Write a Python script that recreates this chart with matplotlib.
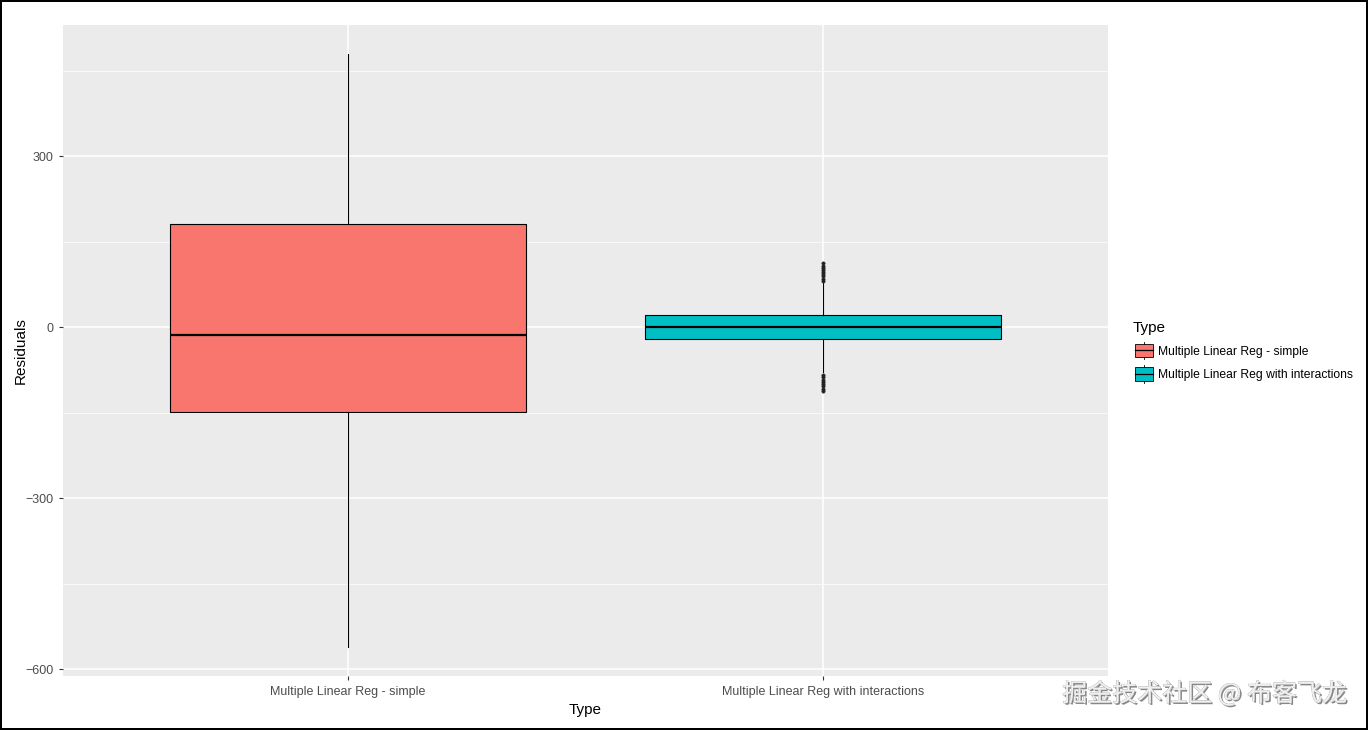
import numpy as np
import matplotlib.pyplot as plt
import matplotlib.patheffects as pe
from matplotlib.legend_handler import HandlerBase
from matplotlib.patches import Rectangle
from matplotlib.lines import Line2D

plt.rcParams["font.family"] = ["Liberation Sans", "DejaVu Sans"]

# box statistics
types = ["Multiple Linear Reg - simple", "Multiple Linear Reg with interactions"]
colors = ["#F8766D", "#00BFC4"]
whislo = [-561, -79]
q1 = [-149, -21]
med = [-14, 0]
q3 = [181, 21]
whishi = [479, 77]
fliers = [
    [],
    [81, 85, 89, 93, 96, 100, 104, 108, 112,
     -84, -88, -92, -96, -100, -104, -108, -112],
]
major_ticks = [-600, -300, 0, 300]
minor_ticks = [-450, -150, 150, 450]

stats = []
for i in range(len(types)):
    stats.append(dict(whislo=whislo[i], q1=q1[i], med=med[i], q3=q3[i],
                      whishi=whishi[i], fliers=fliers[i], label=types[i]))

fig = plt.figure(figsize=(13.68, 7.3), dpi=100, edgecolor="black", linewidth=1.5)
ax = fig.add_axes([63 / 1368, 54 / 730, 1045 / 1368, 651 / 730])
ax.set_facecolor("#EBEBEB")

bp = ax.bxp(stats, positions=[1, 2], widths=0.75, patch_artist=True, showcaps=False,
            boxprops=dict(linewidth=0.8, edgecolor="black"),
            medianprops=dict(color="black", linewidth=1.6),
            whiskerprops=dict(color="black", linewidth=0.8),
            flierprops=dict(marker="o", markersize=2.4, markerfacecolor="#222222",
                            markeredgecolor="#222222", markeredgewidth=0.4,
                            linestyle="none"),
            zorder=3)
for box, c in zip(bp["boxes"], colors):
    box.set_facecolor(c)

ax.set_xlim(0.4, 2.6)
ax.set_ylim(-612, 530)
ax.set_yticks(major_ticks)
ax.set_yticks(minor_ticks, minor=True)
ax.set_xticks([1, 2])
ax.set_xticklabels(types)
ax.grid(which="major", color="white", linewidth=1.1, zorder=0)
ax.grid(which="minor", axis="y", color="white", linewidth=0.5, zorder=0)
ax.set_axisbelow(True)
for s in ax.spines.values():
    s.set_visible(False)
ax.tick_params(which="major", length=3, width=0.8, color="#333333",
               labelcolor="#4D4D4D", labelsize=9, pad=4)
ax.tick_params(which="minor", length=0)
ax.set_xlabel("Type", fontsize=11, labelpad=4)
ax.set_ylabel("Residuals", fontsize=11)
ax.yaxis.set_label_coords(-35 / 1045, 0.5)


class BoxKey(HandlerBase):
    # ggplot-style boxplot key: box, median line and whisker stubs
    def create_artists(self, legend, orig_handle, xdescent, ydescent,
                       width, height, fontsize, trans):
        c = orig_handle.get_facecolor()
        x0 = -xdescent + 1.5
        yc = 0.36 * fontsize
        half = 6.2
        bh = 4.8
        r = Rectangle((x0, yc - bh), width, 2 * bh,
                      facecolor=c, edgecolor="black", linewidth=0.6, transform=trans)
        m = Line2D([x0, x0 + width], [yc, yc], color="black",
                   linewidth=0.9, transform=trans)
        w1 = Line2D([x0 + width / 2] * 2, [yc - half, yc - bh], color="black",
                    linewidth=0.6, transform=trans)
        w2 = Line2D([x0 + width / 2] * 2, [yc + bh, yc + half],
                    color="black", linewidth=0.6, transform=trans)
        return [r, m, w1, w2]


handles = [Rectangle((0, 0), 1, 1, facecolor=c) for c in colors]
leg = fig.legend(handles, types, title="Type", loc="center left",
                 bbox_to_anchor=(1123 / 1368, 1 - 351 / 730), frameon=False,
                 fontsize=8.7, title_fontsize=11, handlelength=1.5, handleheight=1.45,
                 handletextpad=0.6, labelspacing=0.75, borderpad=0.3,
                 handler_map={Rectangle: BoxKey()})
leg._legend_box.align = "left"

fig.text(1347 / 1368, 36 / 730, "掘金技术社区 @ 布客飞龙", ha="right", va="center",
         fontsize=18, color="#F0F0F0", family=["Noto Sans CJK SC", "DejaVu Sans"],
         path_effects=[pe.withSimplePatchShadow(offset=(1.2, -1.2), shadow_rgbFace="#555555", alpha=0.7),
                       pe.withStroke(linewidth=0.4, foreground="#999999")])

fig.savefig("out.png", dpi=100, edgecolor="black")
